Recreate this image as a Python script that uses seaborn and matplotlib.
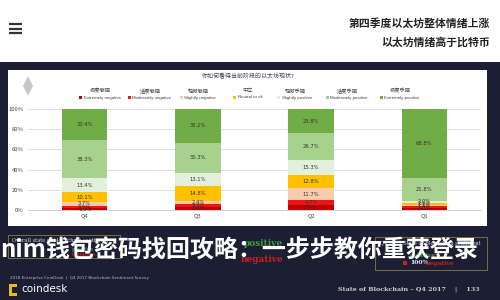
import matplotlib
matplotlib.use("Agg")
import matplotlib.pyplot as plt
from matplotlib.patches import Rectangle, Polygon
from matplotlib.lines import Line2D
import seaborn as sns
import pandas as pd

# ---- data ----
quarters = ["Q4", "Q3", "Q2", "Q1"]
categories = ["Extremely negative", "Moderately negative", "Slightly negative",
              "Neutral or ok", "Slightly positive", "Moderately positive", "Extremely positive"]
categories_cn = ["极度悲观", "适度悲观", "轻微悲观", "中立", "轻微乐观", "适度乐观", "极度乐观"]
extremely_negative = [1.6, 2.9, 5.0, 2.0]
moderately_negative = [2.5, 3.3, 4.7, 1.8]
slightly_negative = [3.7, 2.4, 11.7, 1.1]
neutral = [10.1, 14.8, 12.8, 2.5]
slightly_positive = [13.4, 13.1, 15.3, 2.0]
moderately_positive = [38.3, 30.3, 26.7, 21.8]
extremely_positive = [30.4, 33.2, 23.8, 68.8]
y_ticks = [0, 20, 40, 60, 80, 100]
y_tick_labels = ["0%", "20%", "40%", "60%", "80%", "100%"]

colors = ["#c00000", "#f01414", "#f8cbad", "#ffc000", "#e2efda", "#a9d18e", "#70ad47"]
series = [extremely_negative, moderately_negative, slightly_negative, neutral,
          slightly_positive, moderately_positive, extremely_positive]

rows = []
for q_i, q in enumerate(quarters):
    bottom = 0.0
    for c, vals in zip(categories, series):
        v = vals[q_i]
        rows.append(dict(quarter=q, category=c, value=v, bottom=bottom, top=bottom + v))
        bottom += v
df = pd.DataFrame(rows)

sns.set_style("white")
plt.rcParams["font.family"] = ["Noto Sans CJK SC", "DejaVu Sans"]

W, H = 500, 300
fig = plt.figure(figsize=(5, 3), dpi=100)
fig.patch.set_facecolor("white")
renderer = fig.canvas.get_renderer()

def fx(x):
    return x / W

def fy(y):
    return 1 - y / H

def rect(x0, y0, x1, y1, **kw):
    r = Rectangle((fx(x0), fy(y1)), fx(x1) - fx(x0), fy(y0) - fy(y1),
                  transform=fig.transFigure, **kw)
    fig.add_artist(r)
    return r

# backgrounds
rect(0, 62, 500, 300, facecolor="#1c1e34", edgecolor="none", zorder=-10)
rect(8, 70, 487, 226, facecolor="white", edgecolor="none", zorder=-9)

# hamburger icon
for yy in (24, 28.5, 33):
    fig.add_artist(Line2D([fx(9), fx(22)], [fy(yy), fy(yy)], transform=fig.transFigure,
                          color="#333333", lw=1.6, solid_capstyle="butt"))

# top titles
fig.text(fx(490), fy(24), "第四季度以太坊整体情绪上涨", ha="right", va="center",
         fontsize=7.8, fontweight="bold", color="#222222")
fig.text(fx(490), fy(42), "以太坊情绪高于比特币", ha="right", va="center",
         fontsize=7.8, fontweight="bold", color="#222222")

# ethereum logo
fig.add_artist(Polygon([(fx(28), fy(76)), (fx(33), fy(86)), (fx(28), fy(96)), (fx(23), fy(86))],
                       closed=True, transform=fig.transFigure, facecolor="#c8c8c8",
                       edgecolor="none", zorder=2))

# chart title
fig.text(fx(202), fy(76), "你如何看待当前阶段的以太坊现状?", ha="left", va="center",
         fontsize=4.3, color="#444444")

# legend
leg_x = [100, 150, 198, 248, 295, 347, 400]
for x, cn, en, col in zip(leg_x, categories_cn, categories, colors):
    fig.text(fx(x), fy(91), cn, ha="center", va="center", fontsize=3.8, color="#444444")
    t = fig.text(fx(x + 2), fy(97.5), en, ha="center", va="center", fontsize=3.2,
                 color="#444444", family=["Liberation Sans"])
    bb = t.get_window_extent(renderer=renderer)
    x0 = bb.x0  # pixels from left
    rect(x0 - 4.5, 96, x0 - 1.5, 99, facecolor=col, edgecolor="none", zorder=3)

# axes
ax = fig.add_axes([fx(28), fy(210), fx(481) - fx(28), fy(109) - fy(210)])
ax.set_facecolor("none")
for c, col in zip(categories[::-1], colors[::-1]):
    sub = df[df["category"] == c]
    sns.barplot(data=sub, x="quarter", y="top", order=quarters, color=col,
                saturation=1, width=0.4, errorbar=None, linewidth=0, ax=ax, zorder=3)

for i, q in enumerate(quarters):
    sub = df[df["quarter"] == q]
    for _, r in sub.iterrows():
        ax.text(i, r["bottom"] + r["value"] / 2, f"{r['value']:.1f}%", ha="center",
                va="center", fontsize=3.8, color="#333333", zorder=5,
                family=["DejaVu Sans"])

ax.set_ylim(0, 100)
ax.set_xlim(-0.5, 3.5)
ax.set_yticks(y_ticks)
ax.set_yticklabels(y_tick_labels)
ax.set_xlabel("")
ax.set_ylabel("")
ax.tick_params(axis="both", length=0, labelsize=4.2, labelcolor="#444444")
ax.tick_params(axis="y", pad=3)
ax.tick_params(axis="x", pad=2.5)
ax.yaxis.grid(True, color="#d9d9d9", lw=0.6)
ax.set_axisbelow(True)
for s in ["top", "right", "left"]:
    ax.spines[s].set_visible(False)
ax.spines["bottom"].set_color("#c8c8c8")
ax.spines["bottom"].set_linewidth(0.6)

# bottom area
rect(8, 235, 120, 258, facecolor="none", edgecolor="#7d6e3a", lw=0.7, zorder=2)
fig.text(fx(12), fy(240.5), "Overall state of blockchain sentiment", ha="left", va="center",
         fontsize=3.6, color="#dddddd", family=["DejaVu Serif"])
fig.text(fx(72), fy(249.5), "positive", ha="left", va="center", fontsize=3.6,
         color="#3d9a3d", family=["DejaVu Serif"], fontweight="bold")
fig.text(fx(72), fy(254.5), "negative", ha="left", va="center", fontsize=3.6,
         color="#cc2020", family=["DejaVu Serif"], fontweight="bold")

fig.text(fx(283), fy(244), "positive", ha="right", va="center", fontsize=6.5,
         color="#3d9a3d", family=["DejaVu Serif"], fontweight="bold")
fig.text(fx(283), fy(260), "negative", ha="right", va="center", fontsize=6.5,
         color="#cc2020", family=["DejaVu Serif"], fontweight="bold")

rect(375, 237, 487, 270, facecolor="none", edgecolor="#7d6e3a", lw=0.7, zorder=2)
fig.text(fx(380), fy(242.5), "Q4 2017 State of Blockchain sentiment", ha="left", va="center",
         fontsize=3.6, color="#dddddd", family=["DejaVu Serif"])
fig.text(fx(410), fy(255), "positive", ha="left", va="center", fontsize=4.3,
         color="#3d9a3d", family=["DejaVu Serif"], fontweight="bold")
rect(403, 261, 407, 265, facecolor="#cc2020", edgecolor="none", zorder=2)
fig.text(fx(410), fy(263), "100%", ha="left", va="center", fontsize=4.3,
         color="#eeeeee", family=["DejaVu Serif"], fontweight="bold")
fig.text(fx(426), fy(263), "negative", ha="left", va="center", fontsize=4.3,
         color="#cc2020", family=["DejaVu Serif"], fontweight="bold")

fig.text(fx(10), fy(278), "2018 Enterprise CoinDesk  |  Q4 2017 Blockchain Sentiment Survey",
         ha="left", va="center", fontsize=3.0, color="#bbbbbb", family=["DejaVu Sans"])
rect(9, 284, 12, 296, facecolor="#e8b923", edgecolor="none", zorder=2)
rect(9, 284, 17, 287, facecolor="#e8b923", edgecolor="none", zorder=2)
rect(9, 293, 17, 296, facecolor="#e8b923", edgecolor="none", zorder=2)
fig.text(fx(21), fy(289.5), "coindesk", ha="left", va="center", fontsize=7.5,
         color="white", family=["DejaVu Sans"])
fig.text(fx(480), fy(289.5), "State of Blockchain – Q4 2017    |    133", ha="right",
         va="center", fontsize=4.6, color="#cccccc", family=["DejaVu Serif"], fontweight="bold")

# overlay headline
fig.text(fx(0), fy(251), "nim钱包密码找回攻略：一步步教你重获登录", ha="left", va="center",
         fontsize=17.3, fontweight="bold", color="white", zorder=20)

fig.savefig("out.png", dpi=100)
